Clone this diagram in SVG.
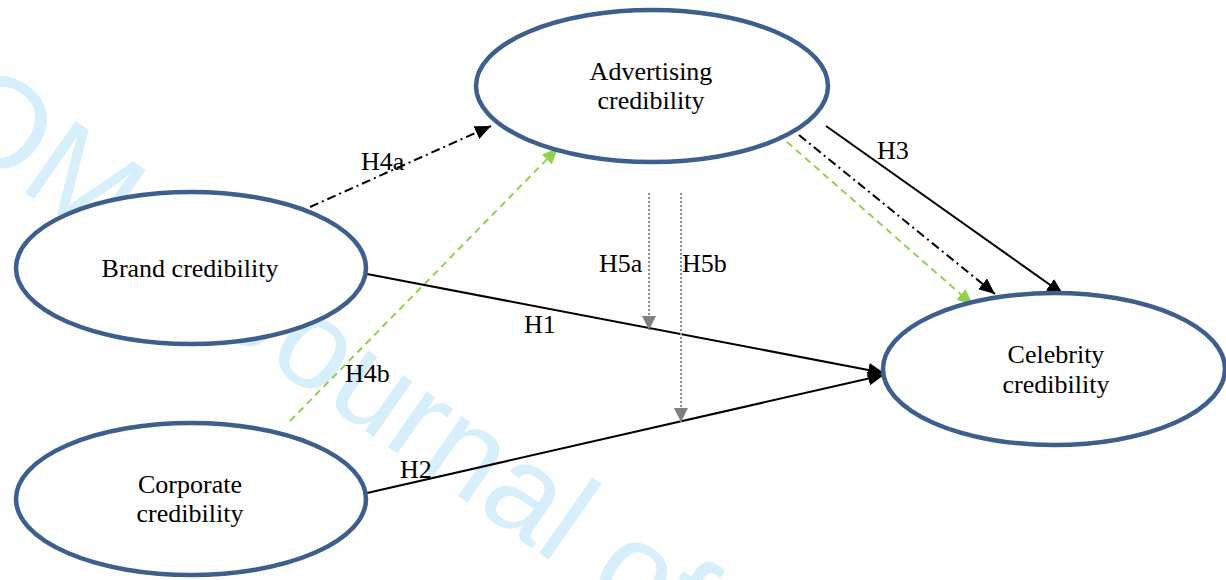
<svg xmlns="http://www.w3.org/2000/svg" width="1226" height="580" viewBox="0 0 1226 580">
<style>
.node{fill:#ffffff;stroke:#3c5f8e;stroke-width:4.5}
.t{font-family:"Liberation Serif","Times New Roman",serif;font-size:26px;fill:#000;text-anchor:middle}
.lbl{font-family:"Liberation Serif","Times New Roman",serif;font-size:26px;fill:#000}
.wm{font-family:"Liberation Sans",Arial,sans-serif;font-size:128px;fill:#d6effb}
.solid{stroke:#000;stroke-width:2;fill:none}
.dashdot{stroke:#000;stroke-width:2;fill:none;stroke-dasharray:9 4 2 4}
.green{stroke:#92d050;stroke-width:2;fill:none;stroke-dasharray:7 5}
.dot{stroke:#8c8c8c;stroke-width:2;fill:none;stroke-dasharray:2 2}
</style>
<defs>
<marker id="ab" markerUnits="userSpaceOnUse" markerWidth="16" markerHeight="14" refX="16" refY="7" orient="auto"><path d="M0,0 L16,7 L0,14 z" fill="#000"/></marker>
<marker id="ag" markerUnits="userSpaceOnUse" markerWidth="16" markerHeight="14" refX="16" refY="7" orient="auto"><path d="M0,0 L16,7 L0,14 z" fill="#92d050"/></marker>
<marker id="ay" markerUnits="userSpaceOnUse" markerWidth="14" markerHeight="14" refX="14" refY="7" orient="auto"><path d="M0,0 L14,7 L0,14 z" fill="#808080"/></marker>
</defs>
<rect width="1226" height="580" fill="#ffffff"/>
<g id="watermark">
<text class="wm" transform="translate(-65,130) rotate(35)">OM <tspan dx="96">Journal of</tspan></text>
</g>
<g id="connectors">
<line class="dashdot" x1="310" y1="207" x2="491" y2="126" marker-end="url(#ab)"/>
<line class="green" x1="290" y1="421" x2="558" y2="148" marker-end="url(#ag)"/>
<line class="solid" x1="367" y1="274" x2="884" y2="373" marker-end="url(#ab)"/>
<line class="solid" x1="367" y1="493" x2="884" y2="375" marker-end="url(#ab)"/>
<line class="solid" x1="826" y1="126" x2="1063" y2="294" marker-end="url(#ab)"/>
<line class="dashdot" x1="799" y1="135" x2="995" y2="294" marker-end="url(#ab)"/>
<line class="green" x1="787" y1="142" x2="973" y2="305" marker-end="url(#ag)"/>
<line class="dot" x1="649" y1="193" x2="649" y2="330" marker-end="url(#ay)"/>
<line class="dot" x1="681" y1="193" x2="681" y2="422" marker-end="url(#ay)"/>
<text class="lbl" x="361" y="170">H4a</text>
<text class="lbl" x="345" y="382">H4b</text>
<text class="lbl" x="524" y="333">H1</text>
<text class="lbl" x="400" y="478">H2</text>
<text class="lbl" x="877" y="159">H3</text>
<text class="lbl" x="599" y="272">H5a</text>
<text class="lbl" x="682" y="272">H5b</text>
</g>
<g id="advertising">
<ellipse class="node" cx="652" cy="86" rx="176" ry="76"/>
<text class="t" x="651" y="80">Advertising</text>
<text class="t" x="651" y="109">credibility</text>
</g>
<g id="brand">
<ellipse class="node" cx="191" cy="268" rx="175" ry="76"/>
<text class="t" x="190" y="277">Brand credibility</text>
</g>
<g id="corporate">
<ellipse class="node" cx="191" cy="499" rx="175" ry="76"/>
<text class="t" x="190" y="493">Corporate</text>
<text class="t" x="190" y="522">credibility</text>
</g>
<g id="celebrity">
<ellipse class="node" cx="1054" cy="369" rx="171" ry="76"/>
<text class="t" x="1056" y="363">Celebrity</text>
<text class="t" x="1056" y="393">credibility</text>
</g>
</svg>
